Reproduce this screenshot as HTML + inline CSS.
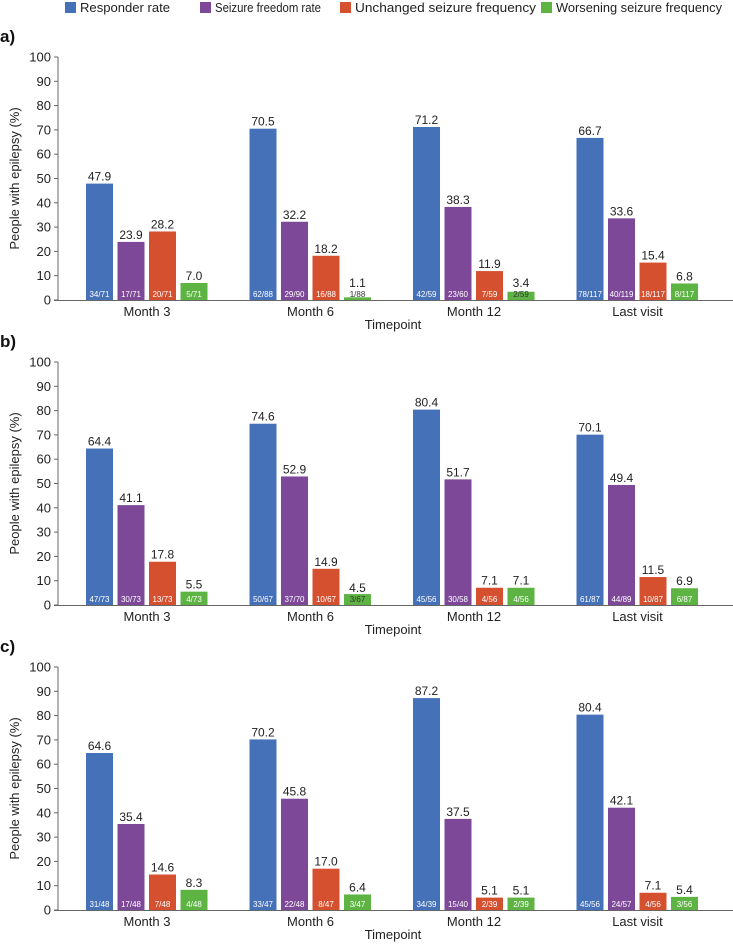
<!DOCTYPE html>
<html><head><meta charset="utf-8"><style>
body{margin:0;background:#fff;font-family:"Liberation Sans",Arial,sans-serif}
svg text{font-family:"Liberation Sans",Arial,sans-serif}
</style></head><body>
<svg id="chart" width="733" height="944" xmlns="http://www.w3.org/2000/svg">
<g id="legend"></g>
</svg>
<script>
const categories = ["Month 3","Month 6","Month 12","Last visit"];
const seriesNames = ["Responder rate","Seizure freedom rate","Unchanged seizure frequency","Worsening seizure frequency"];
const colors = ["#4571b9","#7d4898","#d5502f","#5db443"];
const panelLabels = ["a)","b)","c)"];
const yTicks = [0,10,20,30,40,50,60,70,80,90,100];
// values[panel][series][category]
const valuesA = [[47.9,70.5,71.2,66.7],[23.9,32.2,38.3,33.6],[28.2,18.2,11.9,15.4],[7.0,1.1,3.4,6.8]];
const valuesB = [[64.4,74.6,80.4,70.1],[41.1,52.9,51.7,49.4],[17.8,14.9,7.1,11.5],[5.5,4.5,7.1,6.9]];
const valuesC = [[64.6,70.2,87.2,80.4],[35.4,45.8,37.5,42.1],[14.6,17.0,5.1,7.1],[8.3,6.4,5.1,5.4]];
const fractionsA = [["34/71","62/88","42/59","78/117"],["17/71","29/90","23/60","40/119"],["20/71","16/88","7/59","18/117"],["5/71","1/88","2/59","8/117"]];
const fractionsB = [["47/73","50/67","45/56","61/87"],["30/73","37/70","30/58","44/89"],["13/73","10/67","4/56","10/87"],["4/73","3/67","4/56","6/87"]];
const fractionsC = [["31/48","33/47","34/39","45/56"],["17/48","22/48","15/40","24/57"],["7/48","8/47","2/39","4/56"],["4/48","3/47","2/39","3/56"]];
const panels=[valuesA,valuesB,valuesC];
const fracs=[fractionsA,fractionsB,fractionsC];

const NS="http://www.w3.org/2000/svg";
const svg=document.getElementById('chart');
function mk(tag,attrs,parent,text){const e=document.createElementNS(NS,tag);for(const k in attrs)e.setAttribute(k,attrs[k]);if(text!==undefined)e.textContent=text;(parent||svg).appendChild(e);return e;}

const legend=document.getElementById('legend');
const legX=[65,200,340,541];
const legW=[90,106,181,166];
seriesNames.forEach((n,i)=>{
  const r=mk('rect',{x:legX[i],y:2,width:11,height:11,fill:colors[i]},legend);
  
  
  const t=mk('text',{x:legX[i]+15,y:12,'font-size':13,fill:'#222',textLength:legW[i],lengthAdjust:'spacingAndGlyphs'},legend,n);
  
  
});

const axisX=58, axisEnd=733, plotH=243, barW=27, groupStep=163.5, barStep=31.5, firstBar=86;
panels.forEach((vals,p)=>{
  const y0=300+p*305;
  const g=mk('g',{});
  
  
  const ys=v=>y0-v/100*plotH;
  const pl=mk('text',{x:0,y:y0-258,'font-size':17,'font-weight':'bold',fill:'#111'},g,panelLabels[p]);
  
  
  mk('line',{x1:axisX,y1:ys(100),x2:axisX,y2:y0,stroke:'#666','stroke-width':1},g);
  yTicks.forEach(t=>{
    mk('line',{x1:axisX-4,y1:ys(t),x2:axisX,y2:ys(t),stroke:'#666'},g);
    const tl=mk('text',{x:axisX-7,y:ys(t)+4.5,'font-size':13,'text-anchor':'end',fill:'#222'},g,t);
    
    
  });
  const yt=mk('text',{x:0,y:0,'font-size':13,'text-anchor':'middle',fill:'#222',transform:`translate(19,${ys(50)}) rotate(-90)`},g,'People with epilepsy (%)');
  
  
  categories.forEach((c,ci)=>{
    const gx=firstBar+ci*groupStep;
    vals.forEach((ser,si)=>{
      const v=ser[ci], x=gx+si*barStep, top=ys(v);
      const short=(y0-top)<11;
      const b=mk('rect',{x:x,y:top,width:barW,height:y0-top,fill:colors[si]},g);
      
      
      const vl=mk('text',{x:x+barW/2,y:short?y0-13:top-3,'font-size':12,'text-anchor':'middle',fill:'#222'},g,v.toFixed(1));
      
      
      const fl=mk('text',{x:x+barW/2,y:y0-3,'font-size':8,'text-anchor':'middle',fill:short?'#333':'#fff'},g,fracs[p][si][ci]);
      
      
    });
    const cl=mk('text',{x:gx+61,y:y0+16,'font-size':13,'text-anchor':'middle',fill:'#222'},g,c);
    
    
  });
  mk('line',{x1:axisX-4,y1:y0+0.5,x2:axisEnd,y2:y0+0.5,stroke:'#666','stroke-width':1},g);
  const xt=mk('text',{x:393,y:y0+29,'font-size':13,'text-anchor':'middle',fill:'#222'},g,'Timepoint');
  
  
});
</script>
</body></html>
